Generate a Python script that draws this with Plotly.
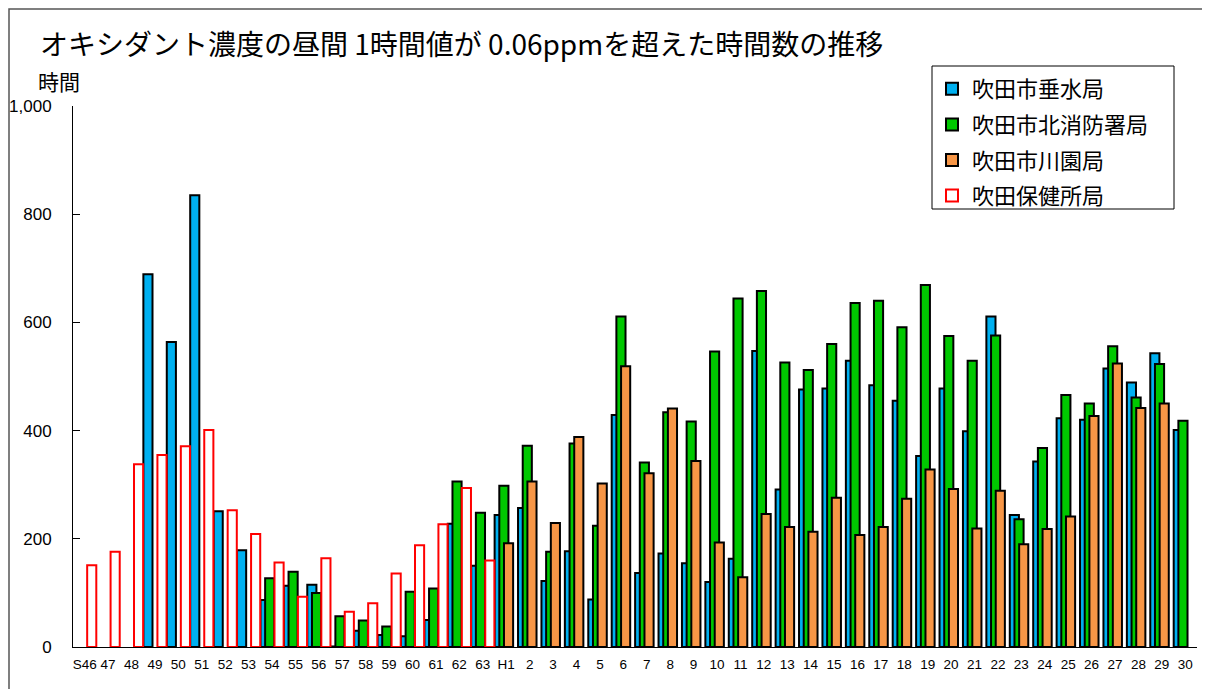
import plotly.graph_objects as go

categories = ["S46", "47", "48", "49", "50", "51", "52", "53", "54", "55", "56", "57",
              "58", "59", "60", "61", "62", "63", "H1", "2", "3", "4", "5", "6", "7",
              "8", "9", "10", "11", "12", "13", "14", "15", "16", "17", "18", "19", "20",
              "21", "22", "23", "24", "25", "26", "27", "28", "29", "30"]

tarumi = [None, None, None, 689, 564, 835, 251, 179, 87, 113, 115, 1,
          30, 22, 20, 50, 228, 150, 244, 257, 122, 177, 88, 429, 137,
          173, 155, 120, 163, 547, 291, 476, 478, 529, 484, 455, 353, 478,
          399, 611, 244, 343, 423, 420, 515, 489, 543, 401]

kita = [None, None, None, None, None, None, None, None, 127, 139, 100, 57,
        49, 38, 102, 108, 306, 248, 298, 372, 176, 376, 224, 611, 341,
        434, 417, 546, 644, 658, 526, 512, 560, 636, 640, 591, 669, 575,
        529, 576, 236, 368, 466, 450, 556, 461, 523, 418]

kawazono = [None] * 18 + [192, 306, 229, 388, 302, 519, 321,
            441, 344, 193, 129, 246, 222, 213, 276, 207, 222, 274, 328, 292,
            219, 289, 190, 218, 241, 427, 524, 442, 450, None]

hoken = [151, 176, 338, 355, 371, 401, 253, 209, 156, 93, 164, 65,
         81, 136, 188, 227, 294, 160] + [None] * 30

series = [
    ("吹田市垂水局", tarumi, "#00B0F0", "#000000"),
    ("吹田市北消防署局", kita, "#00C800", "#000000"),
    ("吹田市川園局", kawazono, "#F79646", "#000000"),
    ("吹田保健所局", hoken, "#FFFFFF", "#FF0000"),
]

offsets = [-0.495, -0.295, -0.095, 0.105]
bar_w = 0.39

fig = go.Figure()
for (name, vals, fill, line), off in zip(series, offsets):
    fig.add_trace(go.Bar(
        x=categories, y=vals, name=name,
        offset=off, width=bar_w,
        marker=dict(color=fill, line=dict(color=line, width=2)),
        legendgroup=name,
    ))

font_main = "Liberation Sans, Arial, Noto Sans CJK JP, sans-serif"
font_jp = "Noto Sans CJK JP, sans-serif"

# page is offset by the 8px body margin; plot area 73..1197 x 106..647 on the page
PX0, PY0 = 73, 647
PW, PH = 1124, 541


def px(x):
    return (x - PX0) / PW


def py(y):
    return (PY0 - y) / PH


fig.update_layout(
    width=1202, height=681,
    barmode="overlay",
    plot_bgcolor="white", paper_bgcolor="white",
    margin=dict(l=65, r=13, t=98, b=42, autoexpand=False),
    title=dict(text="オキシダント濃度の昼間 1時間値が 0.06ppmを超えた時間数の推移",
               x=32 / 1202, xanchor="left", xref="container",
               y=1 - 37 / 681, yanchor="middle", yref="container",
               font=dict(family=font_jp, size=28, color="#000000")),
    showlegend=True,
    legend=dict(x=px(932), y=py(68), xanchor="left", yanchor="top",
                bgcolor="rgba(0,0,0,0)", borderwidth=0,
                font=dict(family=font_jp, size=22, color="#000000"),
                traceorder="grouped", tracegroupgap=4,
                itemwidth=30),
    xaxis=dict(type="category", range=[-0.5, 47.5], showline=True, linecolor="#000000",
               linewidth=1, ticks="", showgrid=False,
               tickfont=dict(family=font_main, size=13.5, color="#000000"),
               ticklabelstandoff=5, tickangle=0),
    yaxis=dict(range=[0, 1000], tickvals=[0, 200, 400, 600, 800, 1000],
               tickformat=",d", showline=True, linecolor="#000000", linewidth=1,
               ticks="inside", ticklen=7, tickcolor="#000000", showgrid=False,
               zeroline=False, ticklabelstandoff=17,
               tickfont=dict(family=font_main, size=17, color="#000000")),
    annotations=[dict(text="時間", xref="paper", yref="paper",
                      x=px(59), y=py(81),
                      xanchor="center", yanchor="middle", showarrow=False,
                      font=dict(family=font_jp, size=21, color="#000000"))],
    shapes=[
        dict(type="rect", xref="paper", yref="paper",
             x0=px(9), x1=px(1204), y0=py(720), y1=py(9),
             line=dict(color="#555555", width=1.5), fillcolor="rgba(0,0,0,0)",
             layer="below"),
        dict(type="rect", xref="paper", yref="paper",
             x0=px(932), x1=px(1174), y0=py(209), y1=py(66),
             line=dict(color="#000000", width=1), fillcolor="white",
             layer="above"),
    ],
)

fig.write_html("out.html")
